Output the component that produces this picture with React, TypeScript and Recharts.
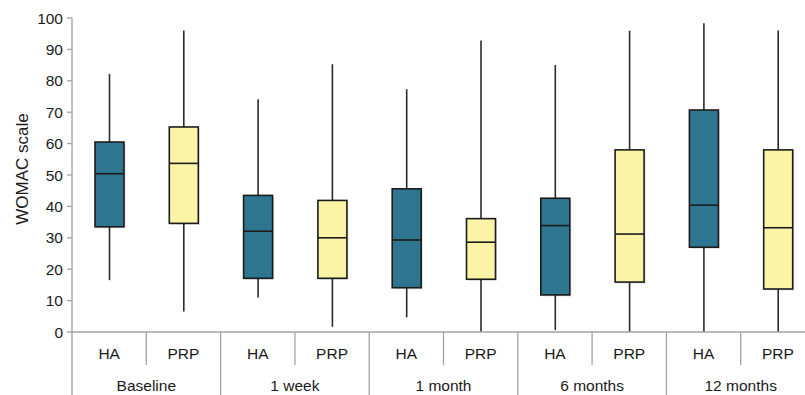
import React from 'react';
import { ComposedChart, Bar, XAxis, YAxis } from 'recharts';

const groups = ['Baseline', '1 week', '1 month', '6 months', '12 months'];
const treatments = ['HA', 'PRP'];
const mins = [16.5, 6.5, 11, 1.7, 4.7, 0, 0.6, 0, 0, 0];
const q1s = [33.5, 34.6, 17.1, 17.1, 14.1, 16.8, 11.8, 15.9, 27, 13.7];
const medians = [50.4, 53.7, 32.1, 30.0, 29.3, 28.6, 33.9, 31.2, 40.4, 33.2];
const q3s = [60.5, 65.3, 43.5, 41.9, 45.6, 36.1, 42.6, 58, 70.7, 58];
const maxs = [82.2, 96, 74.1, 85.3, 77.3, 92.8, 85, 95.9, 98.3, 96];
const yTicks = [0, 10, 20, 30, 40, 50, 60, 70, 80, 90, 100];

const data = mins.map((mn, i) => ({
  id: `${groups[Math.floor(i / 2)]}-${treatments[i % 2]}`,
  group: groups[Math.floor(i / 2)],
  treatment: treatments[i % 2],
  range: [mn, maxs[i]],
  min: mn,
  q1: q1s[i],
  median: medians[i],
  q3: q3s[i],
  max: maxs[i],
}));

const CHART_W = 820;
const CHART_H = 395;
const MARGIN = { top: 18, right: 5, bottom: 0, left: 0 };
const Y_W = 72;
const X_H = 63;
const PLOT_W = CHART_W - MARGIN.left - MARGIN.right - Y_W;
const HALF = PLOT_W / data.length / 2;

const FONT = '"Liberation Sans", Arial, Helvetica, sans-serif';
const HA_COLOR = '#2e7590';
const PRP_COLOR = '#fbf4a6';
const AXIS_COLOR = '#a3a3a3';

const BoxShape = (props: any) => {
  const { x, y, width, height, payload } = props;
  const top = Math.min(y, y + height);
  const h = Math.abs(height);
  const { min, max, q1, q3, median, treatment } = payload;
  const span = max - min || 1;
  const toPx = (v: number) => top + ((max - v) / span) * h;
  const cx = x + width / 2;
  const yq3 = toPx(q3);
  const yq1 = toPx(q1);
  const ymed = toPx(median);
  const fill = treatment === 'HA' ? HA_COLOR : PRP_COLOR;
  return (
    <g>
      <line x1={cx} x2={cx} y1={top} y2={top + h} stroke="#2a2a2a" strokeWidth={1.6} />
      <rect x={x + 1.5} y={yq3 + 1.5} width={width} height={yq1 - yq3} fill="#000" opacity={0.12} />
      <rect x={x} y={yq3} width={width} height={yq1 - yq3} fill={fill} stroke="#1c1c1c" strokeWidth={1.6} />
      <line x1={x} x2={x + width} y1={ymed} y2={ymed} stroke="#1c1c1c" strokeWidth={1.6} />
    </g>
  );
};

const XTick = (props: any) => {
  const { x, y, payload } = props;
  const index = payload?.index ?? props.index ?? 0;
  const row = data[index];
  const isSecond = index % 2 === 1;
  return (
    <g>
      <text x={x} y={y + 27} textAnchor="middle" fill="#1a1a1a" fontSize={15.5} fontFamily={FONT}>
        {row.treatment}
      </text>
      {index === 0 && (
        <line x1={x - HALF} x2={x - HALF} y1={y - 2} y2={y + 70} stroke={AXIS_COLOR} strokeWidth={1.3} />
      )}
      <line
        x1={x + HALF}
        x2={x + HALF}
        y1={y}
        y2={isSecond ? y + 70 : y + 33}
        stroke={AXIS_COLOR}
        strokeWidth={1.3}
      />
      {isSecond && (
        <text x={x - HALF} y={y + 59} textAnchor="middle" fill="#1a1a1a" fontSize={15.5} fontFamily={FONT}>
          {row.group}
        </text>
      )}
    </g>
  );
};

const YLabel = (props: any) => {
  const vb = props.viewBox || { x: 0, y: 0, width: Y_W, height: 0 };
  const cx = vb.x + 28;
  const cy = vb.y + vb.height / 2 - 6;
  return (
    <text
      x={cx}
      y={cy}
      transform={`rotate(-90 ${cx} ${cy})`}
      textAnchor="middle"
      fill="#1a1a1a"
      fontSize={17}
      fontFamily={FONT}
    >
      WOMAC scale
    </text>
  );
};

export default function App() {
  return (
    <div style={{ position: 'absolute', left: 0, top: 0, width: 805, height: 395, overflow: 'hidden', background: '#fff' }}>
      <ComposedChart width={CHART_W} height={CHART_H} data={data} margin={MARGIN}>
        <XAxis
          dataKey="id"
          type="category"
          interval={0}
          height={X_H}
          tickSize={0}
          tickMargin={0}
          tickLine={false}
          axisLine={{ stroke: AXIS_COLOR, strokeWidth: 1.3 }}
          tick={<XTick />}
        />
        <YAxis
          type="number"
          domain={[0, 100]}
          ticks={yTicks}
          interval={0}
          width={Y_W}
          tickSize={5}
          tickMargin={4}
          axisLine={{ stroke: AXIS_COLOR, strokeWidth: 1.3 }}
          tickLine={{ stroke: AXIS_COLOR, strokeWidth: 1.3 }}
          tick={{ fill: '#1a1a1a', fontSize: 15.5, fontFamily: FONT }}
          label={{ content: <YLabel /> }}
        />
        <Bar dataKey="range" barSize={29} isAnimationActive={false} shape={<BoxShape />} />
      </ComposedChart>
    </div>
  );
}
